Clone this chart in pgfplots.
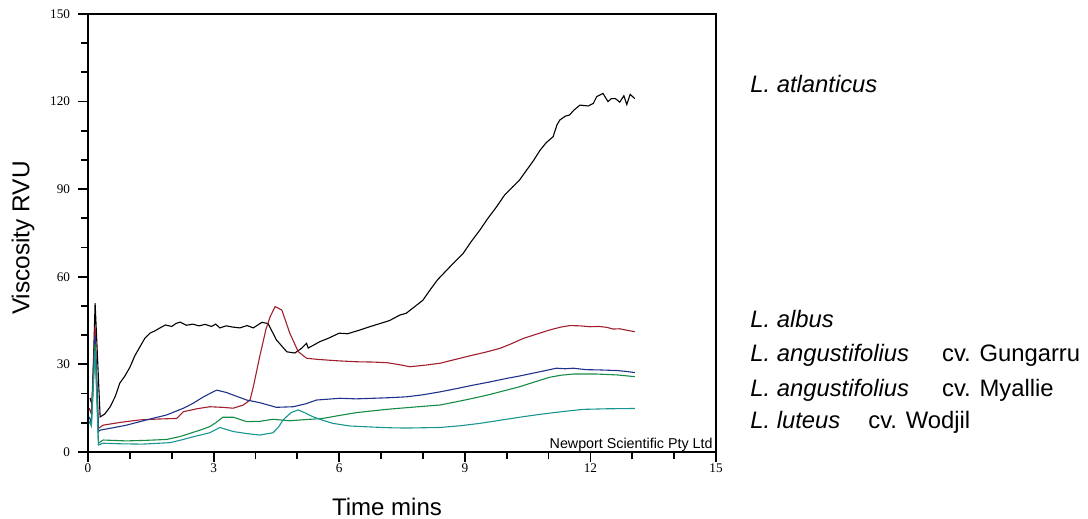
\documentclass[border=0pt]{standalone}
\usepackage{fontspec}
\setmainfont{Liberation Serif}
\newfontfamily\arial{Liberation Sans}
\usepackage{pgfplots}
\pgfplotsset{compat=1.18}

\definecolor{cred}{RGB}{160,30,45}
\definecolor{cblue}{RGB}{30,50,140}
\definecolor{cgreen}{RGB}{20,140,70}
\definecolor{cteal}{RGB}{25,150,145}

\begin{document}
\begin{tikzpicture}
\useasboundingbox (-44bp,-33.5bp) rectangle (500bp,226bp);
\begin{axis}[
  at={(0,0)}, anchor=south west,
  scale only axis, width=314bp, height=219bp,
  xmin=0, xmax=15, ymin=0, ymax=150,
  xtick={0,3,...,15}, ytick={0,30,...,150},
  minor xtick={1,2,4,5,7,8,10,11,13,14},
  minor ytick={10,20,40,50,70,80,100,110,130,140},
  xtick pos=left, ytick pos=left,
  tick align=outside,
  major tick length=5bp, minor tick length=3.5bp,
  every tick/.style={black, line width=0.9bp},
  every minor tick/.style={black, line width=0.9bp},
  axis line style={line width=0.6bp},
  /pgf/number format/assume math mode=true,
  tick label style={font=\fontsize{6.6bp}{7bp}\selectfont},
  xticklabel style={yshift=2.5bp},
  yticklabel style={xshift=-0.5bp},
  every axis plot/.append style={line width=0.55bp},
  clip=false,
]
\draw[line width=1.1bp] (rel axis cs:0,1) -- (rel axis cs:0,0) -- (rel axis cs:1,0);

% L. atlanticus
\addplot[black] coordinates {
(0.05,18.5)(0.1,16)(0.17,51)(0.29,12)(0.4,13)(0.53,15.5)(0.65,19)(0.76,23.6)(0.88,26)(1.0,29)
(1.12,33)(1.24,36)(1.36,39)(1.48,40.7)(1.6,41.5)(1.72,42.5)(1.85,43.5)(2.0,43)(2.1,44)(2.2,44.5)
(2.35,43.4)(2.5,43.8)(2.65,43.2)(2.8,43.7)(2.95,43)(3.05,43.8)(3.15,42.5)(3.3,43.2)(3.45,42.8)
(3.63,42.5)(3.8,43.3)(3.95,42.5)(4.15,44.4)(4.3,44)(4.5,38.4)(4.75,34.3)(4.94,33.9)(5.1,35.5)
(5.22,37.2)(5.26,35.6)(5.54,37.8)(5.75,39)(6.0,40.7)(6.2,40.5)(6.5,41.8)(6.75,43)(7.0,44.1)
(7.2,45)(7.45,46.9)(7.6,47.5)(7.85,50.3)(8.0,52)(8.17,55.5)(8.35,59)(8.57,62.3)(8.75,65)
(8.96,68)(9.15,72)(9.36,76)(9.55,80)(9.76,84)(9.95,88)(10.15,90.9)(10.3,93)(10.48,96.6)
(10.65,100)(10.8,103.4)(10.95,106)(11.11,108)(11.2,112)(11.27,113.7)(11.4,115)(11.5,115.4)
(11.6,117)(11.75,118.8)(11.95,118.5)(12.07,119.4)(12.15,121.7)(12.3,122.8)(12.42,120)(12.5,121)
(12.6,121)(12.7,119.8)(12.8,122)(12.87,119)(12.95,122.5)(13.06,121)
};
% L. albus
\addplot[cred] coordinates {
(0.03,15)(0.08,13)(0.17,43)(0.25,8.1)(0.36,9.2)(0.8,10.2)(1.24,11)(1.7,11.3)(2.12,11.5)(2.28,13.8)
(2.6,14.8)(2.91,15.5)(3.2,15.3)(3.47,15)(3.71,16.1)(3.87,17.8)(3.95,22.4)(4.1,32.6)(4.25,42)
(4.35,46.3)(4.47,49.8)(4.63,48.6)(4.82,40.7)(5.02,34.4)(5.22,32.1)(5.5,31.7)(5.7,31.5)(6.0,31.2)
(6.42,30.9)(6.8,30.8)(7.13,30.6)(7.4,30)(7.69,29.2)(8.09,29.8)(8.41,30.4)(8.8,31.8)(9.2,33.2)
(9.5,34.2)(9.84,35.5)(10.1,37)(10.4,38.9)(10.7,40.3)(11.03,41.8)(11.3,42.8)(11.51,43.3)
(11.75,43.2)(11.99,42.9)(12.2,43)(12.39,42.7)(12.54,42.1)(12.7,42.2)(12.83,41.8)(13.06,41.2)
};
% L. angustifolius cv. Gungarru
\addplot[cblue] coordinates {
(0.03,12)(0.08,10)(0.17,40)(0.25,7)(0.29,7.5)(0.6,8.3)(0.92,9.2)(1.4,11)(1.88,12.7)(2.28,15)
(2.5,16.6)(2.76,18.9)(3.07,21.2)(3.3,20.4)(3.47,19.5)(3.79,17.8)(4.1,16.9)(4.5,15.3)(4.9,15.5)
(5.2,16.5)(5.46,17.8)(6.02,18.4)(6.4,18.2)(6.82,18.4)(7.2,18.6)(7.61,18.9)(8.0,19.6)(8.41,20.6)
(8.8,21.7)(9.2,22.9)(9.6,24)(10.0,25.2)(10.3,26)(10.63,27)(10.9,27.8)(11.19,28.7)(11.4,28.5)
(11.59,28.7)(11.9,28.2)(12.23,28.1)(12.63,27.9)(12.85,27.6)(13.06,27.2)
};
% L. angustifolius cv. Myallie
\addplot[cgreen] coordinates {
(0.03,10.5)(0.08,9)(0.17,37)(0.25,3)(0.36,4.1)(0.92,3.8)(1.4,4)(1.88,4.3)(2.2,5.3)(2.44,6.4)
(2.7,7.6)(2.91,8.7)(3.05,10)(3.22,11.9)(3.47,11.9)(3.79,10.4)(4.1,10.5)(4.42,11.2)(4.82,10.7)
(5.2,11.1)(5.61,11.5)(6.0,12.5)(6.42,13.5)(6.8,14.1)(7.21,14.7)(7.8,15.4)(8.41,16.1)(8.8,17.2)
(9.2,18.4)(9.6,19.7)(10.0,21.2)(10.3,22.3)(10.56,23.5)(10.8,24.6)(11.03,25.6)(11.3,26.3)
(11.59,26.7)(12.15,26.7)(12.63,26.4)(12.85,26.1)(13.06,25.8)
};
% L. luteus cv. Wodjil
\addplot[cteal] coordinates {
(0.03,10.4)(0.08,9)(0.17,35)(0.25,2.4)(0.36,3)(0.8,2.8)(1.31,2.7)(1.96,3.2)(2.25,4.2)(2.51,5.2)
(2.91,6.6)(3.15,8.4)(3.47,7)(3.8,6.3)(4.1,5.8)(4.42,6.6)(4.55,8.5)(4.66,11)(4.85,13.5)(5.02,14.4)
(5.2,13.3)(5.37,12.1)(5.6,10.9)(5.85,9.8)(6.26,8.9)(6.7,8.6)(7.21,8.3)(7.6,8.2)(8.0,8.3)(8.41,8.4)
(8.9,9)(9.36,9.8)(9.9,11)(10.4,12.1)(10.8,12.9)(11.19,13.6)(11.5,14.1)(11.83,14.6)(12.39,14.8)(13.06,14.9)
};
\end{axis}

\node[anchor=base east, inner sep=0pt, font=\arial\fontsize{7.15bp}{8bp}\selectfont] at (312.5bp,2bp) {Newport Scientific Pty Ltd};
\node[rotate=90, inner sep=0pt, font=\arial\fontsize{12.2bp}{14bp}\selectfont] at (-32.5bp,107bp) {Viscosity RVU};
\node[inner sep=0pt, font=\arial\fontsize{12bp}{14bp}\selectfont] at (149.5bp,-27.5bp) {Time mins};

\begin{scope}[every node/.style={anchor=base west, inner sep=0pt, font=\arial\fontsize{11.9bp}{14bp}\selectfont}]
\node at (331bp,179.85bp) {\itshape L. atlanticus};
\node at (331bp,62.35bp) {\itshape L. albus};
\node at (331bp,45.15bp) {\itshape L. angustifolius};
\node at (426.85bp,45.15bp) {cv. Gungarru};
\node at (331bp,27.65bp) {\itshape L. angustifolius};
\node at (426.85bp,27.65bp) {cv. Myallie};
\node at (331bp,11.85bp) {\itshape L. luteus};
\node at (390bp,11.85bp) {cv. Wodjil};
\end{scope}
\end{tikzpicture}
\end{document}
